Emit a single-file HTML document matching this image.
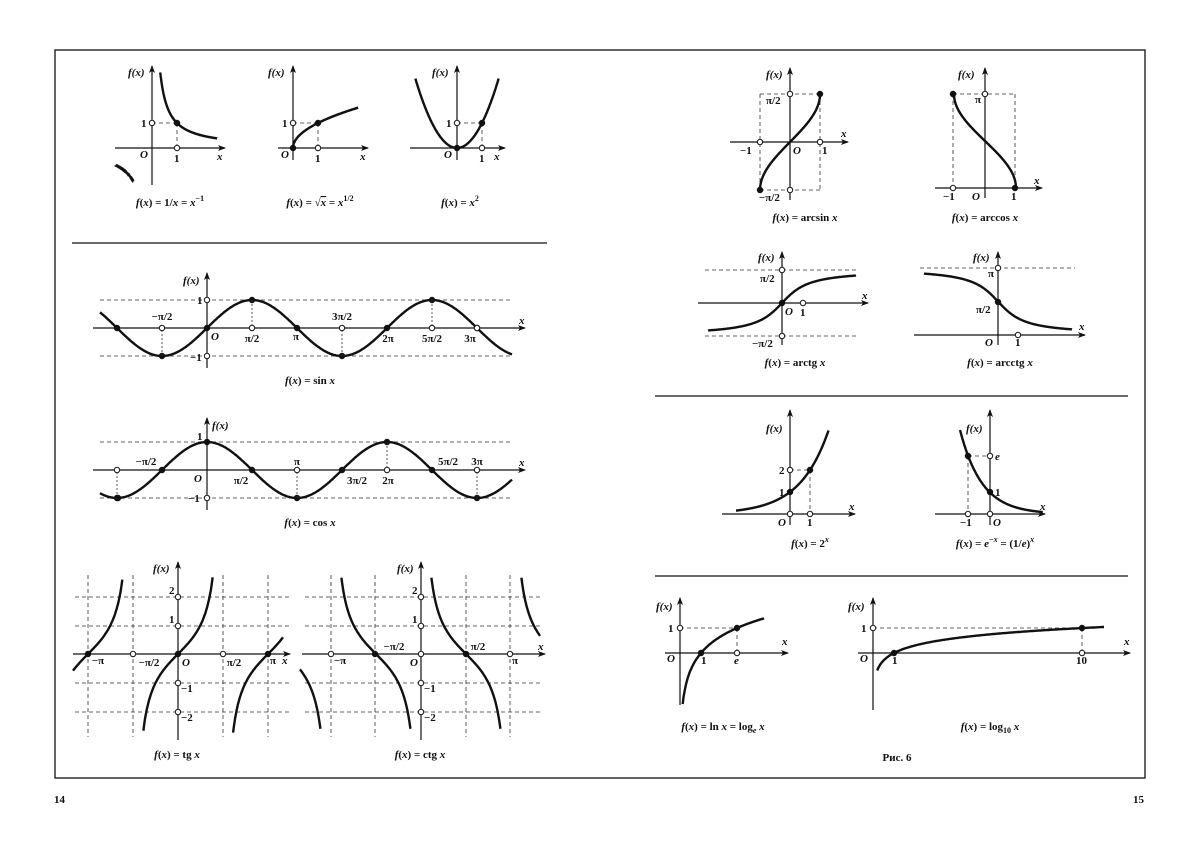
<!DOCTYPE html>
<html><head><meta charset="utf-8"><style>
body{margin:0;background:#fff}
svg text{font-family:"Liberation Serif",serif;font-size:11px;font-weight:bold;fill:#111}
.i{font-style:italic}
.c{text-anchor:middle}
</style></head><body>
<svg id="s" width="1200" height="852" viewBox="0 0 1200 852" xmlns="http://www.w3.org/2000/svg">
<defs><marker id="a" markerWidth="8" markerHeight="8" refX="7" refY="4" orient="auto" markerUnits="userSpaceOnUse"><path d="M0,1 L8,4 L0,7 L2,4 z" fill="#111"/></marker></defs>
<rect x="55" y="50" width="1090" height="728" fill="none" stroke="#111" stroke-width="1.3"/>
<line x1="72" y1="243" x2="547" y2="243" stroke="#111" stroke-width="1.3"/>
<line x1="655" y1="396" x2="1128" y2="396" stroke="#111" stroke-width="1.3"/>
<line x1="655" y1="576" x2="1128" y2="576" stroke="#111" stroke-width="1.3"/>
<g id="g"></g>
<!-- labels -->
<text x="54" y="803">14</text><text x="1133" y="803">15</text>
<text x="897" y="761" class="c">Рис. 6</text>
<!-- 1/x -->
<text x="128" y="76" class="i">f(x)</text><text x="141" y="127">1</text><text x="140" y="158" class="i">O</text><text x="174" y="162">1</text><text x="217" y="160" class="i">x</text>
<text x="170" y="206" class="c"><tspan class="i">f</tspan>(<tspan class="i">x</tspan>) = 1/<tspan class="i">x</tspan> = <tspan class="i">x</tspan><tspan font-size="8" dy="-5">−1</tspan></text>
<!-- sqrt -->
<text x="268" y="76" class="i">f(x)</text><text x="282" y="127">1</text><text x="281" y="158" class="i">O</text><text x="315" y="162">1</text><text x="360" y="160" class="i">x</text>
<text x="320" y="206" class="c"><tspan class="i">f</tspan>(<tspan class="i">x</tspan>) = √<tspan class="i" text-decoration="overline">x</tspan> = <tspan class="i">x</tspan><tspan font-size="8" dy="-5">1/2</tspan></text>
<!-- x^2 -->
<text x="432" y="76" class="i">f(x)</text><text x="446" y="127">1</text><text x="444" y="158" class="i">O</text><text x="479" y="162">1</text><text x="494" y="160" class="i">x</text>
<text x="460" y="206" class="c"><tspan class="i">f</tspan>(<tspan class="i">x</tspan>) = <tspan class="i">x</tspan><tspan font-size="8" dy="-5">2</tspan></text>
<!-- sin -->
<text x="183" y="284" class="i">f(x)</text><text x="197" y="304">1</text><text x="190" y="361">−1</text><text x="211" y="340" class="i">O</text><text x="519" y="324" class="i">x</text>
<text x="162" y="320" class="c">−π/2</text><text x="252" y="342" class="c">π/2</text><text x="296" y="340" class="c">π</text><text x="342" y="320" class="c">3π/2</text><text x="388" y="342" class="c">2π</text><text x="432" y="342" class="c">5π/2</text><text x="470" y="342" class="c">3π</text>
<text x="310" y="384" class="c"><tspan class="i">f</tspan>(<tspan class="i">x</tspan>) = sin <tspan class="i">x</tspan></text>
<!-- cos -->
<text x="212" y="429" class="i">f(x)</text><text x="197" y="440">1</text><text x="188" y="502">−1</text><text x="194" y="482" class="i">O</text><text x="519" y="466" class="i">x</text>
<text x="146" y="465" class="c">−π/2</text><text x="241" y="484" class="c">π/2</text><text x="297" y="465" class="c">π</text><text x="357" y="484" class="c">3π/2</text><text x="388" y="484" class="c">2π</text><text x="448" y="465" class="c">5π/2</text><text x="477" y="465" class="c">3π</text>
<text x="310" y="526" class="c"><tspan class="i">f</tspan>(<tspan class="i">x</tspan>) = cos <tspan class="i">x</tspan></text>
<!-- tg -->
<text x="153" y="572" class="i">f(x)</text><text x="169" y="594">2</text><text x="169" y="623">1</text><text x="181" y="692">−1</text><text x="181" y="721">−2</text><text x="182" y="666" class="i">O</text>
<text x="98" y="664" class="c">−π</text><text x="149" y="666" class="c">−π/2</text><text x="234" y="666" class="c">π/2</text><text x="273" y="664" class="c">π</text><text x="282" y="664" class="i">x</text>
<text x="177" y="758" class="c"><tspan class="i">f</tspan>(<tspan class="i">x</tspan>) = tg <tspan class="i">x</tspan></text>
<!-- ctg -->
<text x="397" y="572" class="i">f(x)</text><text x="412" y="594">2</text><text x="412" y="623">1</text><text x="424" y="692">−1</text><text x="424" y="721">−2</text><text x="410" y="666" class="i">O</text>
<text x="340" y="664" class="c">−π</text><text x="394" y="650" class="c">−π/2</text><text x="478" y="650" class="c">π/2</text><text x="515" y="664" class="c">π</text><text x="538" y="650" class="i">x</text>
<text x="420" y="758" class="c"><tspan class="i">f</tspan>(<tspan class="i">x</tspan>) = ctg <tspan class="i">x</tspan></text>
<!-- arcsin -->
<text x="766" y="78" class="i">f(x)</text><text x="766" y="104">π/2</text><text x="759" y="201">−π/2</text><text x="740" y="154">−1</text><text x="793" y="154" class="i">O</text><text x="822" y="154">1</text><text x="841" y="137" class="i">x</text>
<text x="805" y="221" class="c"><tspan class="i">f</tspan>(<tspan class="i">x</tspan>) = arcsin <tspan class="i">x</tspan></text>
<!-- arccos -->
<text x="958" y="78" class="i">f(x)</text><text x="975" y="103">π</text><text x="943" y="200">−1</text><text x="972" y="200" class="i">O</text><text x="1011" y="200">1</text><text x="1034" y="184" class="i">x</text>
<text x="985" y="221" class="c"><tspan class="i">f</tspan>(<tspan class="i">x</tspan>) = arccos <tspan class="i">x</tspan></text>
<!-- arctg -->
<text x="758" y="261" class="i">f(x)</text><text x="760" y="282">π/2</text><text x="752" y="347">−π/2</text><text x="785" y="315" class="i">O</text><text x="800" y="316">1</text><text x="862" y="299" class="i">x</text>
<text x="795" y="366" class="c"><tspan class="i">f</tspan>(<tspan class="i">x</tspan>) = arctg <tspan class="i">x</tspan></text>
<!-- arcctg -->
<text x="973" y="261" class="i">f(x)</text><text x="988" y="277">π</text><text x="976" y="313">π/2</text><text x="985" y="346" class="i">O</text><text x="1015" y="346">1</text><text x="1079" y="330" class="i">x</text>
<text x="1000" y="366" class="c"><tspan class="i">f</tspan>(<tspan class="i">x</tspan>) = arcctg <tspan class="i">x</tspan></text>
<!-- 2^x -->
<text x="766" y="432" class="i">f(x)</text><text x="779" y="474">2</text><text x="779" y="496">1</text><text x="778" y="526" class="i">O</text><text x="807" y="526">1</text><text x="849" y="510" class="i">x</text>
<text x="810" y="547" class="c"><tspan class="i">f</tspan>(<tspan class="i">x</tspan>) = 2<tspan class="i" font-size="8" dy="-5">x</tspan></text>
<!-- e^-x -->
<text x="966" y="432" class="i">f(x)</text><text x="995" y="460" class="i">e</text><text x="995" y="496">1</text><text x="960" y="526">−1</text><text x="993" y="526" class="i">O</text><text x="1040" y="510" class="i">x</text>
<text x="995" y="547" class="c"><tspan class="i">f</tspan>(<tspan class="i">x</tspan>) = <tspan class="i">e</tspan><tspan font-size="8" dy="-5">−<tspan class="i">x</tspan></tspan><tspan dy="5"> = (1/</tspan><tspan class="i">e</tspan>)<tspan class="i" font-size="8" dy="-5">x</tspan></text>
<!-- ln -->
<text x="656" y="610" class="i">f(x)</text><text x="668" y="632">1</text><text x="667" y="662" class="i">O</text><text x="701" y="664">1</text><text x="734" y="664" class="i">e</text><text x="782" y="645" class="i">x</text>
<text x="723" y="730" class="c"><tspan class="i">f</tspan>(<tspan class="i">x</tspan>) = ln <tspan class="i">x</tspan> = log<tspan font-size="8" dy="3" class="i">e</tspan><tspan dy="-3"> </tspan><tspan class="i">x</tspan></text>
<!-- log10 -->
<text x="848" y="610" class="i">f(x)</text><text x="861" y="632">1</text><text x="860" y="662" class="i">O</text><text x="892" y="664">1</text><text x="1076" y="664">10</text><text x="1124" y="645" class="i">x</text>
<text x="990" y="730" class="c"><tspan class="i">f</tspan>(<tspan class="i">x</tspan>) = log<tspan font-size="8" dy="3">10</tspan><tspan dy="-3"> </tspan><tspan class="i">x</tspan></text>
</svg>
<script>
const G=document.getElementById('g'),NS='http://www.w3.org/2000/svg';
function el(t,a){const e=document.createElementNS(NS,t);for(const k in a)e.setAttribute(k,a[k]);G.appendChild(e);return e;}
function ax(x1,y1,x2,y2){el('line',{x1,y1,x2,y2,stroke:'#111','stroke-width':1.2,'marker-end':'url(#a)'});}
function ln(x1,y1,x2,y2,d){el('line',{x1,y1,x2,y2,stroke:'#333','stroke-width':0.8,'stroke-dasharray':d||'4,3'});}
function dot(cx,cy,o){el('circle',{cx,cy,r:2.7,fill:o?'#fff':'#111',stroke:'#111','stroke-width':1});}
function plot(f,ox,oy,sx,sy,x0,x1,ymin,ymax){
 let d='',pen=false;const n=400;
 for(let i=0;i<=n;i++){const x=x0+(x1-x0)*i/n;const y=f(x);const px=ox+x*sx,py=oy-y*sy;
  if(!isFinite(py)||py<ymin||py>ymax){pen=false;continue;}
  d+=(pen?'L':'M')+px.toFixed(1)+','+py.toFixed(1);pen=true;}
 el('path',{d,fill:'none',stroke:'#111','stroke-width':2.4});
}
const P=Math.PI;
// 1/x
ax(115,148,225,148);ax(152,185,152,66);
ln(177,123,177,148);ln(152,123,177,123);
plot(x=>1/x,152,148,25,25,0.05,2.6,72,200);plot(x=>1/x,152,148,25,25,-1.45,-0.75,60,190);
dot(177,123);dot(177,148,1);dot(152,123,1);
// sqrt
ax(278,148,368,148);ax(293,160,293,66);
ln(318,123,318,148);ln(293,123,318,123);
plot(x=>Math.sqrt(x),293,148,25,25,0,2.6,0,300);
dot(293,148);dot(318,123);dot(318,148,1);dot(293,123,1);
// x^2
ax(410,148,505,148);ax(457,160,457,66);
ln(482,123,482,148);ln(457,123,482,123);
plot(x=>x*x,457,148,25,25,-1.7,1.7,78,300);
dot(457,148);dot(482,123);dot(482,148,1);dot(457,123,1);
// sin
const ku=45/(P/2);
ln(100,300,513,300);ln(100,356,513,356);
ax(93,328,525,328);ax(207,368,207,273);
plot(x=>Math.sin(x),207,328,ku,28,(100-207)/ku,(512-207)/ku,0,900);
for(let k=-2;k<=6;k++){const x=207+k*45;if(x<100||x>512)continue;
 if(k%2)dot(x,k%4==1||k%4==-3?300:356);
 else dot(x,328,k!=0?0:0);}
[-1,1,3,5,6].forEach(k=>{const x=207+k*45;const y=(k%4==1)?300:356;if(k%2)ln(x,y,x,328,'2,2');dot(x,328,1);});
dot(207,300,1);dot(207,356,1);
// cos
ln(100,442,513,442);ln(100,498,513,498);
ax(93,470,525,470);ax(207,510,207,418);
plot(x=>Math.cos(x),207,470,ku,28,(100-207)/ku,(512-207)/ku,0,900);
for(let k=-2;k<=6;k++){const x=207+k*45;if(x<100||x>512)continue;
 if(k%2==0){const y=(k%4==0)?442:498;dot(x,y);if(k)ln(x,y,x,470,'2,2');if(k)dot(x,470,1);} else dot(x,470);}
dot(207,498,1);dot(118,498);
// tg
[88,133,223,268].forEach(x=>ln(x,575,x,737));
[597,626,683,712].forEach(y=>ln(75,y,290,y));
ax(73,654,290,654);ax(178,740,178,562);
plot(x=>Math.tan(x),178,654,ku,29,(73-178)/ku,(283-178)/ku,577,735);
dot(88,654);dot(178,654);dot(268,654);dot(133,654,1);dot(223,654,1);
[597,626,683,712].forEach(y=>dot(178,y,1));
// ctg
[331,375,466,510].forEach(x=>ln(x,575,x,737));
[597,626,683,712].forEach(y=>ln(305,y,540,y));
ax(302,654,545,654);ax(421,740,421,562);
plot(x=>1/Math.tan(x),421,654,ku,29,(300-421)/ku,(540-421)/ku,577,733);
dot(375,654);dot(466,654);dot(331,654,1);dot(510,654,1);dot(421,654,1);
[597,626,683,712].forEach(y=>dot(421,y,1));
// arcsin
ln(760,94,820,94);ln(760,190,820,190);ln(760,94,760,190);ln(820,94,820,190);
ax(730,142,848,142);ax(790,200,790,68);
plot(x=>Math.asin(Math.max(-1,Math.min(1,x))),790,142,30,48/(P/2),-1,1,0,900);
dot(760,190);dot(820,94);dot(760,142,1);dot(820,142,1);dot(790,94,1);dot(790,190,1);
// arccos
ln(953,94,1015,94);ln(953,94,953,188);ln(1015,94,1015,188);
ax(935,188,1042,188);ax(985,198,985,68);
plot(x=>Math.acos(Math.max(-1,Math.min(1,x))),985,188,31,94/P,-1,1,0,900);
dot(953,94);dot(1015,188);dot(953,188,1);dot(985,94,1);
// arctg
ln(705,270,857,270);ln(705,336,857,336);
ax(698,303,868,303);ax(782,345,782,252);
plot(x=>Math.atan(x),782,303,20,33/(P/2),-3.7,3.7,0,900);
dot(782,303);dot(803,303,1);dot(782,270,1);dot(782,336,1);
// arcctg
ln(920,268,1075,268);
ax(914,335,1085,335);ax(998,345,998,252);
plot(x=>P/2-Math.atan(x),998,335,20,67/P,-3.7,3.7,0,900);
dot(998,302);dot(1018,335,1);dot(998,268,1);
// 2^x
ax(722,514,855,514);ax(790,525,790,410);
ln(810,470,810,514);ln(790,470,810,470);
plot(x=>Math.pow(2,x),790,514,20,22,-2.7,2.6,430,900);
dot(790,492);dot(810,470);dot(810,514,1);dot(790,470,1);dot(790,514,1);
// e^-x
ax(935,514,1045,514);ax(990,525,990,410);
ln(968,456,968,514);ln(968,456,990,456);
plot(x=>Math.exp(-x),990,514,22,21.5,-1.4,2.4,430,900);
dot(990,492);dot(968,456);dot(968,514,1);dot(990,456,1);dot(990,514,1);
// ln
ax(665,653,788,653);ax(680,705,680,598);
ln(737,628,737,653);ln(680,628,737,628);
plot(x=>Math.log(x),680,653,21,25,0.13,4.0,0,900);
dot(701,653);dot(737,628);dot(737,653,1);dot(680,628,1);
// log10
ax(858,653,1130,653);ax(873,710,873,598);
ln(1082,628,1082,653);ln(873,628,1082,628);
plot(x=>Math.log10(x),873,653,21,25,0.2,11,0,688);
dot(894,653);dot(1082,628);dot(1082,653,1);dot(873,628,1);
</script>
</body></html>
